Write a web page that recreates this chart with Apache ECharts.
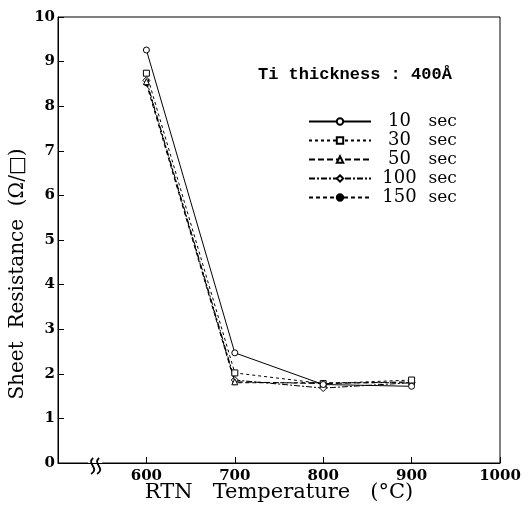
<!DOCTYPE html>
<html><head><meta charset="utf-8">
<script src="https://cdn.jsdelivr.net/npm/echarts@6/dist/echarts.min.js"></script>
<style>html,body{margin:0;padding:0;background:#fff}#c{width:528px;height:505px}</style>
</head><body><div id="c"></div>
<script>
const temps = [600, 700, 800, 900];
const s10 = [9.26, 2.47, 1.76, 1.72];
const s30 = [8.74, 2.02, 1.78, 1.86];
const s50 = [8.55, 1.82, 1.78, 1.82];
const s100 = [8.58, 1.86, 1.68, 1.80];
const s150 = [8.50, 1.80, 1.80, 1.80];
const seriesNames = ['10 sec', '30 sec', '50 sec', '100 sec', '150 sec'];
const xTicks = [600, 700, 800, 900, 1000];
const yTicks = [0,1,2,3,4,5,6,7,8,9,10];

const FD = '"DejaVu Serif","Liberation Serif",serif';
const styles = [
  {sym:'circle', size:6, type:'solid'},
  {sym:'rect', size:6, type:[3,3]},
  {sym:'triangle', size:6, type:[6,3]},
  {sym:'diamond', size:7, type:[6,2,2,2]},
  {sym:'circle', size:4, type:[4,3], fill:true}
];
const vals = [s10, s30, s50, s100, s150];
const series = vals.map((v,i)=>({
  name: seriesNames[i], type:'line',
  data: temps.map((t,j)=>[t, v[j]]),
  symbol: styles[i].sym, symbolSize: styles[i].size, showSymbol:true,
  itemStyle:{color: styles[i].fill ? '#000' : '#fff', borderColor:'#000', borderWidth:1},
  lineStyle:{color:'#000', width:1, type: styles[i].type},
  z: 5 - i
}));

const chart = echarts.init(document.getElementById('c'), null, {renderer:'canvas'});
chart.setOption({
  animation:false,
  backgroundColor:'#fff',
  grid:{left:58, right:28, top:17, bottom:42, show:true, borderColor:'#000', borderWidth:1},
  xAxis:{type:'value', min:500, max:1000, interval:100,
    axisLine:{lineStyle:{color:'#000'}},
    axisTick:{inside:true, length:6, lineStyle:{color:'#000'}},
    splitLine:{show:false},
    axisLabel:{color:'#000', fontFamily:FD, fontSize:15, fontWeight:'bold', margin:6,
      formatter: v => xTicks.includes(v) ? String(v) : ''}
  },
  yAxis:{type:'value', min:0, max:10, interval:1,
    axisLine:{lineStyle:{color:'#000'}},
    axisTick:{inside:true, length:6, lineStyle:{color:'#000'}},
    splitLine:{show:false},
    axisLabel:{color:'#000', fontFamily:FD, fontSize:15, fontWeight:'bold', margin:3,
      formatter: v => yTicks.includes(v) ? String(v) : ''}
  },
  legend:{
    orient:'vertical', left:303, top:107, itemGap:0, itemWidth:62, itemHeight:8,
    data: seriesNames,
    textStyle:{fontFamily:FD, fontSize:17, color:'#000', lineHeight:19,
      rich:{n:{width:47, align:'right', fontFamily:FD, fontSize:18, lineHeight:19},
            s:{fontFamily:FD, fontSize:17, lineHeight:19}}},
    formatter: name => { const p = name.split(' '); return '{n|'+p[0]+'}{s| '+p[1]+'}'; }
  },
  series: series
});
const p = chart.convertToPixel({gridIndex:0}, [542, 0]);
chart.setOption({graphic:[
  {type:'text', left:258, top:66,
    style:{text:'Ti thickness : 400Å', font:'bold 17px "Liberation Mono","DejaVu Sans Mono",monospace', fill:'#000'}},
  {type:'text', x:279, y:493,
    style:{text:'RTN   Temperature   (°C)', font:'21px ' + FD, fill:'#000', align:'center', verticalAlign:'middle'}},
  {type:'text', x:18, y:274, rotation:Math.PI/2,
    style:{text:'Sheet  Resistance  (Ω/□)', font:'20px ' + FD, fill:'#000', align:'center', verticalAlign:'middle'}},
  {type:'group', x:p[0], y:p[1], children:[
    {type:'rect', shape:{x:-7,y:-2,width:14,height:4}, style:{fill:'#fff'}},
    {type:'bezierCurve', shape:{x1:-2,y1:-5,x2:-4,y2:11,cpx1:-9,cpy1:1,cpx2:5,cpy2:5}, style:{stroke:'#000', lineWidth:1.8, fill:null}},
    {type:'bezierCurve', shape:{x1:4,y1:-5,x2:2,y2:11,cpx1:-3,cpy1:1,cpx2:11,cpy2:5}, style:{stroke:'#000', lineWidth:1.8, fill:null}}
  ]}]});
</script></body></html>
